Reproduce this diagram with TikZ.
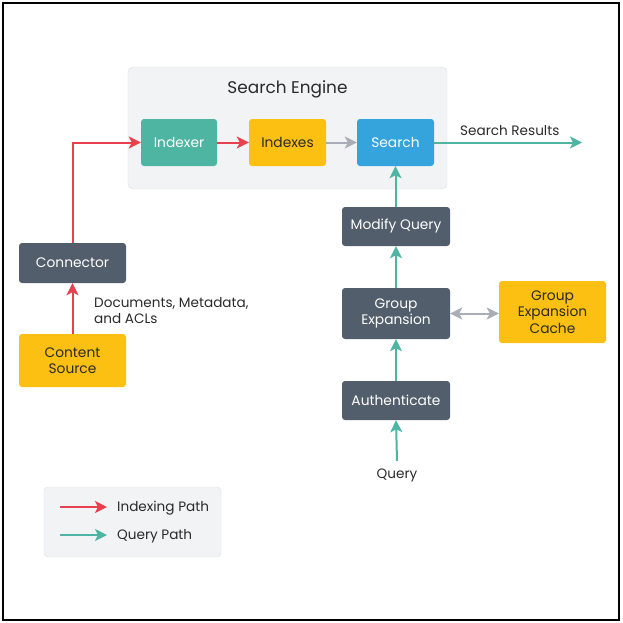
\documentclass[tikz,border=0pt]{standalone}
\usepackage{fontspec}
\setmainfont{Poppins}
\usetikzlibrary{arrows.meta}
\definecolor{teal1}{HTML}{4DB5A1}
\definecolor{yel}{HTML}{FCC012}
\definecolor{blu}{HTML}{35A4DC}
\definecolor{slate}{HTML}{525E6B}
\definecolor{redA}{HTML}{E8404F}
\definecolor{grayA}{HTML}{A9ADB5}
\definecolor{panel}{HTML}{F2F3F5}
\definecolor{panelb}{HTML}{DDDFE2}
\definecolor{txt}{HTML}{2A2A2A}
\tikzset{
  box/.style={rounded corners=3pt, inner sep=0pt, align=center, font=\fontsize{13.8}{16.5}\selectfont},
  dark/.style={box, fill=slate, text=white},
  yb/.style={box, fill=yel, text=txt},
  lbl/.style={font=\fontsize{13.6}{17}\selectfont, text=txt, inner sep=0pt},
  tip/.style={Stealth[length=12pt,width=12pt,inset=3pt]},
  arr/.style={line width=2pt, -{Stealth[length=12pt,width=12pt,inset=3pt]}},
  red arr/.style={arr, draw=redA},
  teal arr/.style={arr, draw=teal1},
}
\begin{document}
\begin{tikzpicture}[x=1pt,y=-1pt]
\useasboundingbox (0,0) rectangle (622,623);
\draw[line width=2.2pt] (3,3) rectangle (619,620);
% search engine panel
\node[draw=panelb, fill=panel, rounded corners=5pt, minimum width=319pt, minimum height=122pt, inner sep=0pt] (se) at (287.5,128) {};
\node[font=\fontsize{16.9}{20}\selectfont, text=txt] (setitle) at (287.5,89) {Search Engine};
\node[box, fill=teal1, text=white, minimum width=76pt, minimum height=47pt] (indexer) at (179,142.5) {Indexer};
\node[yb, minimum width=77pt, minimum height=47pt] (indexes) at (287.5,142.5) {Indexes};
\node[box, fill=blu, text=white, minimum width=77pt, minimum height=47pt] (search) at (395.5,142.5) {Search};
% query side
\node[dark, minimum width=108pt, minimum height=39pt] (modify) at (396,226.5) {Modify Query};
\node[dark, minimum width=108pt, minimum height=51pt] (group) at (396,313.5) {Group\\Expansion};
\node[yb, minimum width=107pt, minimum height=62pt] (cache) at (552.5,312) {Group\\Expansion\\Cache};
\node[dark, minimum width=108pt, minimum height=39pt] (auth) at (396,400.5) {Authenticate};
\node[lbl] (query) at (397,475) {Query};
\coordinate (qstart) at (397,461);
% left side
\node[dark, minimum width=107pt, minimum height=40pt] (conn) at (72.5,263) {Connector};
\node[yb, minimum width=107pt, minimum height=53pt] (content) at (72.5,360.5) {Content\\Source};
\node[lbl, align=left, anchor=north west, font=\fontsize{13.6}{16.5}\selectfont] (docs) at (94,297) {Documents, Metadata,\\and ACLs};
% results
\coordinate (resend) at (582,142.5);
\node[lbl, anchor=south west] (res) at (460,136) {Search Results};
% connectors
\draw[red arr] (content.north) -- (conn.south);
\draw[red arr] (conn.north) |- (indexer.west);
\draw[red arr] (indexer.east) -- (indexes.west);
\draw[arr, draw=grayA] (indexes.east) -- (search.west);
\draw[teal arr] (search.east) -- (resend);
\draw[teal arr] (modify.north -| search.south) -- (search.south);
\draw[teal arr] (group.north) -- (modify.south);
\draw[teal arr] (auth.north) -- (group.south);
\draw[teal arr] (qstart) -- (auth.south);
\draw[line width=2pt, draw=grayA, {Stealth[length=12pt,width=12pt,inset=3pt]}-{Stealth[length=12pt,width=12pt,inset=3pt]}] (group.east) -- (group.east -| cache.west);
% legend
\node[draw=panelb, fill=panel, rounded corners=4pt, minimum width=177pt, minimum height=70pt, inner sep=0pt] (legend) at (132.5,522) {};
\coordinate (l1a) at (60,507); \coordinate (l1b) at (107,507);
\coordinate (l2a) at (60,535); \coordinate (l2b) at (107,535);
\draw[red arr] (l1a) -- (l1b);
\draw[teal arr] (l2a) -- (l2b);
\node[lbl, anchor=west] (lt1) at (117,508) {Indexing Path};
\node[lbl, anchor=west] (lt2) at (117,536) {Query Path};
\end{tikzpicture}
\end{document}
